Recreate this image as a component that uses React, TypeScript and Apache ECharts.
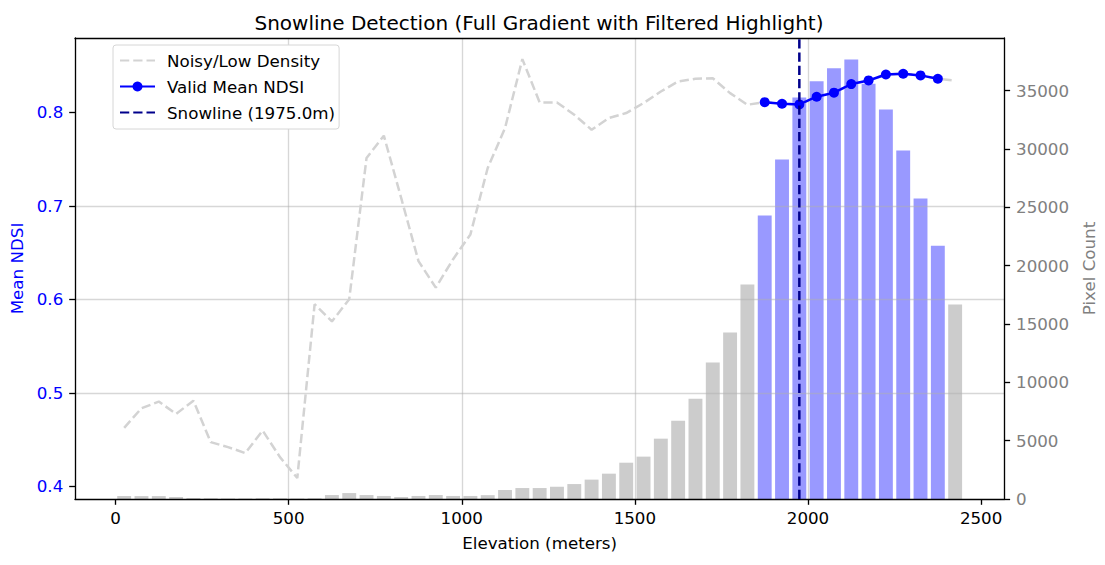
import React, { useEffect, useRef } from "react";
import * as echarts from "echarts";

const elevations = [
  25, 75, 125, 175, 225, 275, 325, 375, 425, 475, 525, 575, 625, 675, 725, 775,
  825, 875, 925, 975, 1025, 1075, 1125, 1175, 1225, 1275, 1325, 1375, 1425, 1475,
  1525, 1575, 1625, 1675, 1725, 1775, 1825, 1875, 1925, 1975, 2025, 2075, 2125,
  2175, 2225, 2275, 2325, 2375, 2425,
];

const pixelCounts = [
  250, 250, 250, 170, 80, 60, 40, 40, 60, 60, 40, 60, 340, 510, 340, 260, 170, 260,
  340, 260, 260, 330, 770, 940, 940, 1050, 1280, 1660, 2170, 3110, 3630, 5170,
  6710, 8600, 11690, 14260, 18370, 24290, 29090, 34400, 35800, 36900, 37650,
  35570, 33380, 29860, 25740, 21710, 16660,
];

const noisyMeanNdsi = [
  0.4626, 0.4836, 0.4907, 0.4775, 0.4917, 0.4473, 0.442, 0.4356, 0.4597, 0.4313,
  0.4089, 0.5948, 0.5764, 0.6002, 0.7513, 0.7751, 0.7086, 0.641, 0.6126, 0.643,
  0.6695, 0.7406, 0.7833, 0.857, 0.8107, 0.8107, 0.7975, 0.7815, 0.794, 0.7993,
  0.81, 0.8224, 0.8331, 0.8359, 0.8366, 0.8206, 0.8082, 0.811, 0.8093, 0.8086,
  0.8168, 0.8211, 0.8303, 0.8342, 0.8406, 0.8414, 0.8396, 0.836, 0.834,
];

const validElevations = [1875, 1925, 1975, 2025, 2075, 2125, 2175, 2225, 2275, 2325, 2375];
const validMeanNdsi = [0.811, 0.8093, 0.8086, 0.8168, 0.8211, 0.8303, 0.8342, 0.8406, 0.8414, 0.8396, 0.836];

const snowlineElevation = 1975;

const xTicks = [0, 500, 1000, 1500, 2000, 2500];
const leftTicks = [0.4, 0.5, 0.6, 0.7, 0.8];
const rightTicks = [0, 5000, 10000, 15000, 20000, 25000, 30000, 35000];

const X_MIN = -117;
const X_MAX = 2567;
const L_MIN = 0.3865;
const L_MAX = 0.8796;
const R_MIN = 0;
const R_MAX = 39500;

const FONT = "DejaVu Sans";
const FS = 16.7;
const GRID_COLOR = "rgba(176,176,176,0.5)";
const DASH = [9.25, 4];
const LW = 2.5;
const SPINE = 1.33;

function isTick(v: number, ticks: number[]) {
  return ticks.some((t) => Math.abs(t - v) < 1e-6 * Math.max(1, Math.abs(t)));
}

const hiddenSymbol = {
  color: "rgba(0,0,0,0)",
  borderColor: "rgba(0,0,0,0)",
  borderWidth: 0,
  opacity: 0,
};

export default function App() {
  const ref = useRef<HTMLDivElement>(null);

  useEffect(() => {
    if (!ref.current) return;
    const chart = echarts.init(ref.current, undefined, { renderer: "svg" });
    const validSet = new Set(validElevations);

    const option: any = {
      animation: false,
      backgroundColor: "#ffffff",
      title: {
        text: "Snowline Detection (Full Gradient with Filtered Highlight)",
        left: 534,
        top: 8,
        textAlign: "center",
        textStyle: { fontFamily: FONT, fontSize: 20, fontWeight: "normal", color: "#000" },
      },
      grid: { left: 75, right: 100, top: 38, bottom: 66, containLabel: false },
      legend: {
        left: 113,
        top: 45,
        orient: "vertical",
        data: [
          { name: "Noisy/Low Density", itemStyle: hiddenSymbol },
          { name: "Valid Mean NDSI" },
          { name: "Snowline (1975.0m)", itemStyle: hiddenSymbol },
        ],
        itemWidth: 35,
        itemHeight: 12.5,
        itemGap: 9,
        padding: [7, 4, 8, 6],
        backgroundColor: "#ffffff",
        borderColor: "#d6d6d6",
        borderWidth: 1,
        borderRadius: 3,
        textStyle: { fontFamily: FONT, fontSize: FS, lineHeight: 17, color: "#000", padding: [0, 0, 0, 7] },
      },
      xAxis: [
        {
          type: "value",
          position: "bottom",
          min: X_MIN,
          max: X_MAX,
          minInterval: 500,
          maxInterval: 500,
          z: 2,
          axisLine: { show: true, onZero: false, lineStyle: { color: "#000", width: SPINE } },
          axisTick: { show: true, length: 5.8, lineStyle: { color: "#000", width: SPINE }, customValues: xTicks },
          axisLabel: {
            customValues: xTicks,
            margin: 10,
            fontFamily: FONT,
            fontSize: FS,
            color: "#000",
            formatter: (v: number) => (isTick(v, xTicks) ? String(Math.round(v)) : ""),
          },
          splitLine: { show: true, showMinLine: false, showMaxLine: false, lineStyle: { color: GRID_COLOR, width: SPINE } },
          name: "Elevation (meters)",
          nameLocation: "middle",
          nameGap: 35,
          nameTextStyle: { fontFamily: FONT, fontSize: FS, color: "#000" },
        },
        {
          type: "value",
          position: "top",
          min: X_MIN,
          max: X_MAX,
          z: 2,
          axisLine: { show: true, onZero: false, lineStyle: { color: "#000", width: SPINE } },
          axisTick: { show: false },
          axisLabel: { show: false },
          splitLine: { show: false },
        },
      ],
      yAxis: [
        {
          type: "value",
          position: "left",
          min: L_MIN,
          max: L_MAX,
          minInterval: 0.1,
          maxInterval: 0.1,
          z: 2,
          axisLine: { show: true, onZero: false, lineStyle: { color: "#000", width: SPINE } },
          axisTick: { show: true, length: 5.8, lineStyle: { color: "#000", width: SPINE }, customValues: leftTicks },
          axisLabel: {
            customValues: leftTicks,
            margin: 11.7,
            fontFamily: FONT,
            fontSize: FS,
            color: "#0000ff",
            formatter: (v: number) => (isTick(v, leftTicks) ? v.toFixed(1) : ""),
          },
          splitLine: { show: true, showMinLine: false, showMaxLine: false, lineStyle: { color: GRID_COLOR, width: SPINE } },
          name: "Mean NDSI",
          nameLocation: "middle",
          nameGap: 47.5,
          nameTextStyle: { fontFamily: FONT, fontSize: FS, color: "#0000ff" },
        },
        {
          type: "value",
          position: "right",
          min: R_MIN,
          max: R_MAX,
          minInterval: 5000,
          maxInterval: 5000,
          z: 2,
          axisLine: { show: true, onZero: false, lineStyle: { color: "#000", width: SPINE } },
          axisTick: { show: true, length: 5.8, lineStyle: { color: "#000", width: SPINE }, customValues: rightTicks },
          axisLabel: {
            customValues: rightTicks,
            margin: 11.7,
            fontFamily: FONT,
            fontSize: FS,
            color: "#808080",
            formatter: (v: number) => (isTick(v, rightTicks) ? String(Math.round(v)) : ""),
          },
          splitLine: { show: false },
          name: "Pixel Count",
          nameLocation: "middle",
          nameGap: 63,
          nameTextStyle: { fontFamily: FONT, fontSize: FS, color: "#808080" },
        },
      ],
      series: [
        {
          name: "Pixel Count",
          type: "bar",
          xAxisIndex: 0,
          yAxisIndex: 1,
          barWidth: 13.9,
          z: 1,
          data: elevations.map((e, i) => ({
            value: [e, pixelCounts[i]],
            itemStyle: { color: validSet.has(e) ? "rgba(0,0,255,0.4)" : "rgba(128,128,128,0.4)" },
          })),
        },
        {
          name: "Noisy/Low Density",
          type: "line",
          xAxisIndex: 0,
          yAxisIndex: 0,
          symbol: "none",
          z: 3,
          color: "#d3d3d3",
          lineStyle: { color: "#d3d3d3", width: LW, type: DASH },
          data: elevations.map((e, i) => [e, noisyMeanNdsi[i]]),
        },
        {
          name: "Valid Mean NDSI",
          type: "line",
          xAxisIndex: 0,
          yAxisIndex: 0,
          symbol: "circle",
          symbolSize: 10,
          z: 4,
          color: "#0000ff",
          itemStyle: { color: "#0000ff" },
          lineStyle: { color: "#0000ff", width: LW },
          data: validElevations.map((e, i) => [e, validMeanNdsi[i]]),
        },
        {
          name: "Snowline (1975.0m)",
          type: "line",
          xAxisIndex: 0,
          yAxisIndex: 0,
          symbol: "none",
          z: 5,
          color: "#00008b",
          lineStyle: { color: "#00008b", width: LW, type: DASH },
          data: [
            [snowlineElevation, L_MIN],
            [snowlineElevation, L_MAX],
          ],
        },
      ],
    };

    chart.setOption(option);
    return () => chart.dispose();
  }, []);

  return (
    <div
      ref={ref}
      style={{ position: "fixed", left: 0, top: 0, width: 1105, height: 565, background: "#fff" }}
    />
  );
}
